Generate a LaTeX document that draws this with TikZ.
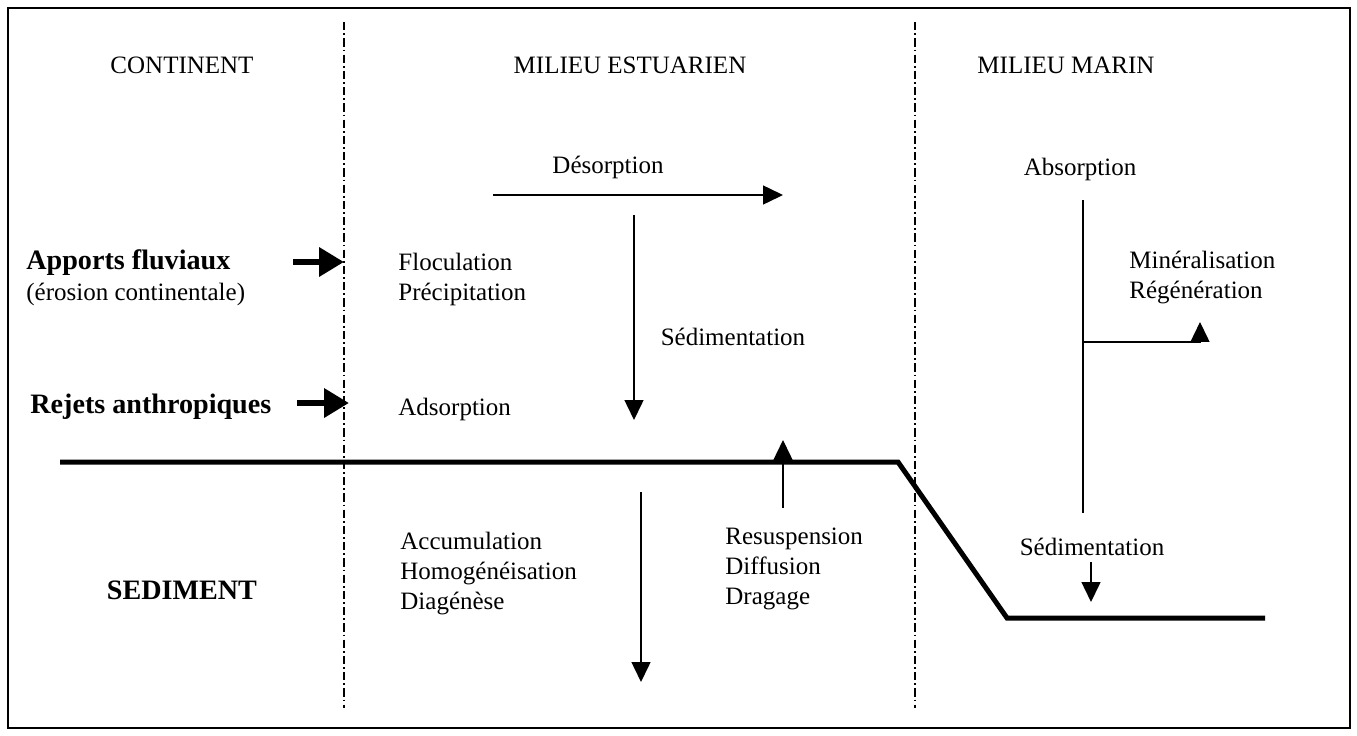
\documentclass[tikz,border=0pt]{standalone}
\usepackage{fontspec}
\setmainfont{Liberation Serif}
\usetikzlibrary{arrows.meta}

\tikzset{
    texte/.style={inner sep=0pt, align=left, font=\fontsize{12}{14.4}\selectfont},
    titre/.style={inner sep=0pt, font=\fontsize{12}{14.4}\selectfont},
    gras/.style={inner sep=0pt, align=left, font=\fontsize{13.5}{14.4}\selectfont\bfseries},
    limite/.style={line width=0.5pt, dash pattern=on 4pt off 1.5pt on 0.8pt off 1.5pt},
    fleche/.style={line width=0.8pt, -{Triangle[length=9.5pt, width=9pt]}},
    apport/.style={line width=3pt, -{Triangle[length=12pt, width=13.5pt]}},
    fond/.style={line width=2.4pt, line join=miter}
}

\begin{document}
\begin{tikzpicture}[x=0.48pt, y=-0.48pt]
            \useasboundingbox (0,0) rectangle (1357,735);

            % cadre
            \draw[line width=1pt] (8,8) rectangle (1350,728);

            % limites des milieux
            \coordinate (L1h) at (344,22);
            \coordinate (L1b) at (344,708);
            \coordinate (L2h) at (915,22);
            \coordinate (L2b) at (915,708);
            \draw[limite] (L1h) -- (L1b);
            \draw[limite] (L2h) -- (L2b);

            % titres
            \node[titre] (cont) at (182,65) {CONTINENT};
            \node[titre] (estu) at (630,65) {MILIEU ESTUARIEN};
            \node[titre] (marin) at (1066,65) {MILIEU MARIN};

            % apports
            \node[gras, anchor=west] (fluv) at (26,263) {Apports fluviaux};
            \node[texte, anchor=west] (eros) at (26,294) {(érosion continentale)};
            \node[gras, anchor=west] (rejet) at (30,407) {Rejets anthropiques};
            \coordinate (F1) at (293,262);
            \coordinate (F2) at (344,262);
            \coordinate (R1) at (297,403);
            \coordinate (R2) at (349,403);
            \draw[apport] (F1) -- (F2);
            \draw[apport] (R1) -- (R2);

            % milieu estuarien
            \node[texte] (desorp) at (608,167) {Désorption};
            \coordinate (D1) at (493,195);
            \coordinate (D2) at (783,195);
            \draw[fleche] (D1) -- (D2);

            \node[texte, anchor=west] (floc) at (398,279) {Floculation\\Précipitation};
            \node[texte, anchor=west] (adsorp) at (398,409) {Adsorption};

            \coordinate (S1) at (634,215);
            \coordinate (S2) at (634,420);
            \draw[fleche] (S1) -- (S2);
            \node[texte] (sedim) at (733,337) {Sédimentation};

            % fond
            \coordinate (G1) at (60,462);
            \coordinate (G2) at (898,462);
            \coordinate (G3) at (1007,618);
            \coordinate (G4) at (1265,618);
            \draw[fond] (G1) -- (G2) -- (G3) -- (G4);

            % sediment
            \node[gras] (sed) at (182,590) {SEDIMENT};
            \node[texte, anchor=west] (accu) at (400,574) {Accumulation\\Homogénéisation\\Diagénèse};
            \coordinate (A1) at (641,492);
            \coordinate (A2) at (641,682);
            \draw[fleche] (A1) -- (A2);

            \node[texte, anchor=west] (resus) at (725,569) {Resuspension\\Diffusion\\Dragage};
            \coordinate (U1) at (783,508);
            \coordinate (U2) at (783,440);
            \draw[fleche] (U1) -- (U2);

            % milieu marin
            \node[texte] (absorp) at (1080,169) {Absorption};
            \coordinate (M1) at (1083,200);
            \coordinate (M2) at (1083,513);
            \coordinate (M3) at (1083,342);
            \coordinate (M4) at (1200,342);
            \coordinate (M5) at (1200,322);
            \draw[line width=0.8pt] (M1) -- (M2);
            \draw[fleche] (M3) -- (M4) -- (M5);
            \node[texte, anchor=west] (miner) at (1129,278) {Minéralisation\\Régénération};

            \node[texte] (sedmar) at (1092,547) {Sédimentation};
            \coordinate (N1) at (1091,562);
            \coordinate (N2) at (1091,602);
            \draw[fleche] (N1) -- (N2);

        \end{tikzpicture}
\end{document}
